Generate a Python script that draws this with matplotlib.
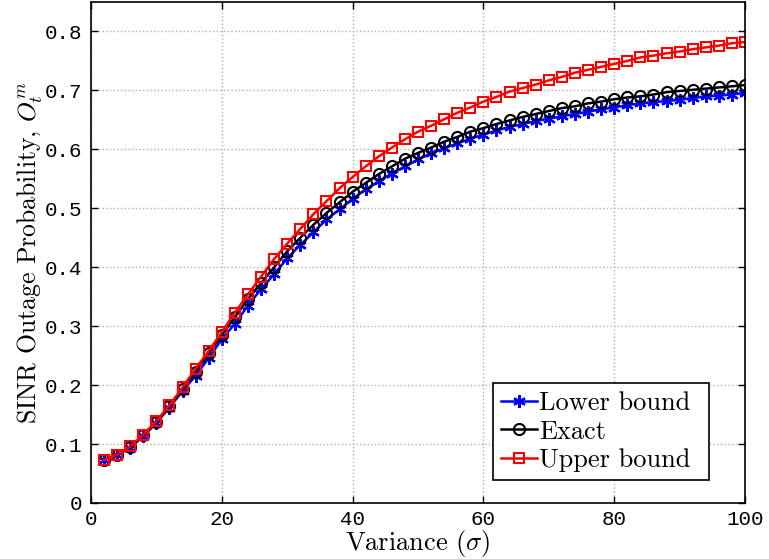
import matplotlib
matplotlib.use("Agg")
import matplotlib.pyplot as plt
import numpy as np

# Variance values (x axis)
variance = list(range(2, 101, 2))

# SINR outage probability curves
lower_bound = [0.073, 0.081, 0.094, 0.113, 0.136, 0.162, 0.190, 0.216, 0.246, 0.278,
               0.304, 0.335, 0.363, 0.388, 0.415, 0.438, 0.459, 0.481, 0.498, 0.516,
               0.532, 0.546, 0.559, 0.571, 0.583, 0.593, 0.602, 0.610, 0.618, 0.625,
               0.632, 0.638, 0.643, 0.648, 0.652, 0.656, 0.660, 0.664, 0.668, 0.671,
               0.675, 0.678, 0.680, 0.682, 0.684, 0.687, 0.690, 0.691, 0.693, 0.696]
exact = [0.073, 0.082, 0.095, 0.115, 0.137, 0.164, 0.193, 0.223, 0.254, 0.285,
         0.315, 0.346, 0.373, 0.400, 0.427, 0.450, 0.472, 0.492, 0.510, 0.528,
         0.543, 0.558, 0.571, 0.584, 0.594, 0.603, 0.613, 0.621, 0.630, 0.636,
         0.643, 0.649, 0.655, 0.660, 0.665, 0.670, 0.673, 0.678, 0.681, 0.685,
         0.688, 0.690, 0.693, 0.697, 0.699, 0.701, 0.703, 0.705, 0.707, 0.709]
upper_bound = [0.073, 0.082, 0.096, 0.116, 0.139, 0.166, 0.196, 0.228, 0.258, 0.290,
               0.323, 0.354, 0.384, 0.414, 0.440, 0.465, 0.490, 0.512, 0.534, 0.553,
               0.571, 0.588, 0.603, 0.617, 0.630, 0.640, 0.651, 0.662, 0.671, 0.681,
               0.689, 0.698, 0.704, 0.710, 0.717, 0.723, 0.730, 0.735, 0.740, 0.745,
               0.750, 0.756, 0.759, 0.763, 0.766, 0.770, 0.773, 0.776, 0.780, 0.782]

x_ticks = [0, 20, 40, 60, 80, 100]
x_tick_labels = ["0", "20", "40", "60", "80", "100"]
y_ticks = [0, 0.1, 0.2, 0.3, 0.4, 0.5, 0.6, 0.7, 0.8]
y_tick_labels = ["0", "0.1", "0.2", "0.3", "0.4", "0.5", "0.6", "0.7", "0.8"]

plt.rcParams["mathtext.fontset"] = "cm"

fig = plt.figure(figsize=(7.69, 5.59), dpi=100)
ax = fig.add_axes([91 / 769, 56 / 559, 654 / 769, 501 / 559])

# asterisk marker (six arms drawn as strokes)
asterisk = (6, 2, 0)

ax.plot(variance, lower_bound, color="blue", lw=1.8, marker=asterisk, ms=9,
        mew=1.6, label="Lower bound")
ax.plot(variance, exact, color="black", lw=1.8, marker="o", ms=8,
        mfc="none", mew=1.5, label="Exact")
ax.plot(variance, upper_bound, color="red", lw=1.8, marker="s", ms=7,
        mfc="none", mew=1.5, label="Upper bound")

ax.set_xlim(0, 100)
ax.set_ylim(0, 0.85)
ax.set_xticks(x_ticks)
ax.set_xticklabels(x_tick_labels)
ax.set_yticks(y_ticks)
ax.set_yticklabels(y_tick_labels)

mono = "Liberation Mono"
for lbl in ax.get_xticklabels() + ax.get_yticklabels():
    lbl.set_fontfamily(mono)
    lbl.set_fontsize(15)

ax.tick_params(direction="in", length=5, width=1, top=True, right=True,
               pad=6, colors="black")
ax.tick_params(axis="x", pad=5)
ax.grid(True, linestyle=":", color="#b0b0b0", linewidth=1)
for s in ax.spines.values():
    s.set_linewidth(1.2)

ax.set_xlabel(r"Variance ($\sigma$)", fontfamily="cmr10", fontsize=19, labelpad=-1)
ax.set_ylabel(r"SINR Outage Probability, $O_t^m$", fontfamily="cmr10",
              fontsize=18.5, labelpad=0)

# legend box stretched to a fixed width, entries left-aligned inside it
leg = ax.legend(loc="lower left", bbox_to_anchor=(0.615, 0.046, 0.33, 0.2),
                mode="expand",
                prop={"family": "cmr10", "size": 19}, handlelength=1.35,
                handletextpad=0.1, borderpad=0.3, labelspacing=0.18,
                fancybox=False, framealpha=1, borderaxespad=0)
leg.get_frame().set_edgecolor("black")
leg.get_frame().set_linewidth(1.2)

fig.savefig("out.png", dpi=100)
